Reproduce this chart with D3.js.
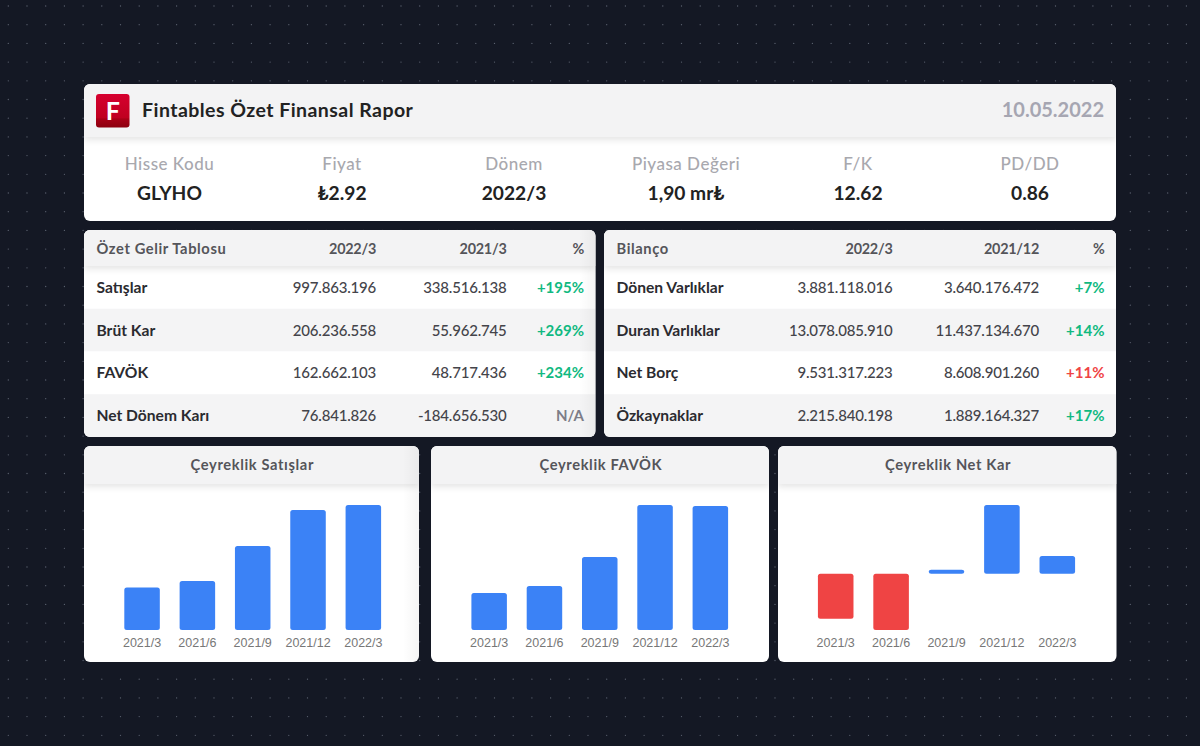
<!DOCTYPE html>
<html><head><meta charset="utf-8">
<script src="https://cdn.jsdelivr.net/npm/d3@7"></script>
<style>
html,body{margin:0;padding:0;background:#141824;overflow:hidden}
svg{display:block}
text{font-family:Lato,"Noto Sans",sans-serif}
.axis text{font-family:"Liberation Sans",Arial,sans-serif;font-size:12.5px;fill:#777}
</style></head><body>
<script>
const reportTitle = "Fintables Özet Finansal Rapor";
const reportDate = "10.05.2022";
const statLabels = ["Hisse Kodu","Fiyat","Dönem","Piyasa Değeri","F/K","PD/DD"];
const statValues = ["GLYHO","₺2.92","2022/3","1,90 mr₺","12.62","0.86"];

const incomeHeader = ["Özet Gelir Tablosu","2022/3","2021/3","%"];
const incomeLabels = ["Satışlar","Brüt Kar","FAVÖK","Net Dönem Karı"];
const incomeCurrent = ["997.863.196","206.236.558","162.662.103","76.841.826"];
const incomePrevious = ["338.516.138","55.962.745","48.717.436","-184.656.530"];
const incomeChange = ["+195%","+269%","+234%","N/A"];

const balanceHeader = ["Bilanço","2022/3","2021/12","%"];
const balanceLabels = ["Dönen Varlıklar","Duran Varlıklar","Net Borç","Özkaynaklar"];
const balanceCurrent = ["3.881.118.016","13.078.085.910","9.531.317.223","2.215.840.198"];
const balancePrevious = ["3.640.176.472","11.437.134.670","8.608.901.260","1.889.164.327"];
const balanceChange = ["+7%","+14%","+11%","+17%"];
const balanceChangeBad = [false,false,true,false];

const quarters = ["2021/3","2021/6","2021/9","2021/12","2022/3"];
const salesValues = [338.5,391,670,957,997.9];
const ebitdaValues = [48.7,57.7,95.8,164,162.7];
const netValues = [-195,-244,17,298,76.8];

const W=1200,H=746;
const svg=d3.select("body").append("svg").attr("width",W).attr("height",H);
const defs=svg.append("defs");

const f=defs.append("filter").attr("id","hs").attr("x","-5%").attr("y","-20%").attr("width","110%").attr("height","150%");
f.append("feDropShadow").attr("dx",0).attr("dy",3).attr("stdDeviation",3).attr("flood-color","#000").attr("flood-opacity",0.10);
const lg=defs.append("linearGradient").attr("id","logo").attr("x1",0).attr("y1",0).attr("x2",0).attr("y2",1);
lg.append("stop").attr("offset","0").attr("stop-color","#d6002f");
lg.append("stop").attr("offset","0.7").attr("stop-color","#c00020");
lg.append("stop").attr("offset","0.75").attr("stop-color","#a80016");
lg.append("stop").attr("offset","1").attr("stop-color","#8c000f");
const eg=defs.append("linearGradient").attr("id","edge");
eg.append("stop").attr("offset","0").attr("stop-color","#000").attr("stop-opacity",0);
eg.append("stop").attr("offset","1").attr("stop-color","#000").attr("stop-opacity",0.04);

// dotted background
const dotStep=18.7;
const dots=svg.append("g").attr("fill","#5c6270");
d3.range(8.3,W,dotStep).forEach(x=>d3.range(6,H,dotStep).forEach(y=>{
  dots.append("circle").attr("cx",x).attr("cy",y).attr("r",0.65);
}));

function card(x,y,w,h,headH,id){
  const g=svg.append("g");
  defs.append("clipPath").attr("id",id).append("rect").attr("x",x).attr("y",y).attr("width",w).attr("height",h).attr("rx",6);
  g.append("rect").attr("x",x).attr("y",y).attr("width",w).attr("height",h).attr("rx",6).attr("fill","#fff");
  const inner=g.append("g").attr("clip-path",`url(#${id})`);
  inner.append("rect").attr("x",x).attr("y",y).attr("width",w).attr("height",headH).attr("fill","#f3f3f4").attr("filter","url(#hs)");
  return inner;
}
const txt=(g,x,y,s,size,weight,fill,anchor,ls)=>g.append("text").attr("x",x).attr("y",y).attr("font-size",size).attr("font-weight",weight).attr("fill",fill).attr("text-anchor",anchor||"start").attr("letter-spacing",ls||0).text(s);

// top card
const topCard=card(84,84,1032,137,53,"c0");
topCard.append("rect").attr("x",96).attr("y",94).attr("width",33.5).attr("height",33.5).attr("rx",3).attr("fill","url(#logo)");
txt(topCard,112.8,119.5,"F",25,700,"#fff","middle");
txt(topCard,142,117,reportTitle,19.5,700,"#222","start",0.46);
txt(topCard,1104,117,reportDate,20,700,"#a6a6b2","end");
const statX=[169.5,342,514,686,858,1030];
statLabels.forEach((s,i)=>txt(topCard,statX[i],170,s,17,500,"#a8a8ae","middle",0.5));
statValues.forEach((s,i)=>txt(topCard,statX[i],199.5,s,19.2,700,"#222","middle"));

// tables
const rowY=d3.scaleBand().domain(d3.range(4)).range([266,437]);
function drawTable(x,w,id,hdr,labels,cur,prev,chg,bad,cols,edge){
  const g=card(x,230,w,207,36,id);
  g.selectAll("rect.row").data(labels).join("rect").attr("class","row")
    .attr("x",x).attr("width",w).attr("y",(d,i)=>rowY(i)).attr("height",rowY.bandwidth())
    .attr("fill",(d,i)=>i%2?"#f4f4f5":"#fff");
  // redraw header on top of first row
  g.append("rect").attr("x",x).attr("y",230).attr("width",w).attr("height",36).attr("fill","#f3f3f4").attr("filter","url(#hs)");
  txt(g,x+12.5,254,hdr[0],14.7,700,"#55555a","start",0.6);
  hdr.slice(1).forEach((s,i)=>txt(g,cols[i],254,s,14.4,700,"#55555a","end",-0.25));
  labels.forEach((s,i)=>{
    const y=rowY(i)+rowY.bandwidth()/2+5.5;
    txt(g,x+12.5,y,s,15.6,700,"#2b2b30");
    txt(g,cols[0],y,cur[i],15,500,"#44444a","end",-0.2);
    txt(g,cols[1],y,prev[i],15,500,"#44444a","end",-0.2);
    const c=chg[i]==="N/A"?"#7d7d88":(bad[i]?"#ef4444":"#10b981");
    txt(g,cols[2],y,chg[i],15,700,c,"end");
  });
  if(edge) g.append("rect").attr("x",x+w-16).attr("y",230).attr("width",16).attr("height",207).attr("fill","url(#edge)");
}
drawTable(84,511.5,"c1",incomeHeader,incomeLabels,incomeCurrent,incomePrevious,incomeChange,[false,false,false,false],[376,506.5,584],true);
drawTable(604,512,"c2",balanceHeader,balanceLabels,balanceCurrent,balancePrevious,balanceChange,balanceChangeBad,[892.5,1039,1104.5],false);

// charts
function drawChart(x,w,id,title,values,x0,x1,zeroBased,edge){
  const g=card(x,446,w,216,38,id);
  txt(g,x+w/2+0.8,469.5,title,14.7,700,"#55555a","middle",0.62);
  const xs=d3.scaleBand().domain(quarters).range([x0,x1]).paddingInner(0.358).paddingOuter(0.179);
  const y=d3.scaleLinear().domain(zeroBased?[0,d3.max(values)]:d3.extent(values)).range([630,505]);
  g.selectAll("rect.bar").data(values).join("rect").attr("class","bar")
    .attr("x",(d,i)=>xs(quarters[i])).attr("width",xs.bandwidth())
    .attr("y",d=>Math.min(y(d),y(0))).attr("height",d=>Math.abs(y(d)-y(0)))
    .attr("rx",2.5).attr("fill",d=>d<0?"#ef4444":"#3b82f6");
  const ax=g.append("g").attr("class","axis").attr("transform","translate(0,630)")
    .call(d3.axisBottom(xs).tickSize(0).tickPadding(8));
  ax.select(".domain").remove();
  if(edge) g.append("rect").attr("x",x+w-16).attr("y",446).attr("width",16).attr("height",216).attr("fill","url(#edge)");
}
drawChart(84,335,"c3","Çeyreklik Satışlar",salesValues,114.4,391,true,true);
drawChart(431,338,"c4","Çeyreklik FAVÖK",ebitdaValues,461.5,738,true,false);
drawChart(778,338.5,"c5","Çeyreklik Net Kar",netValues,808,1085,false,false);
</script>
</body></html>
